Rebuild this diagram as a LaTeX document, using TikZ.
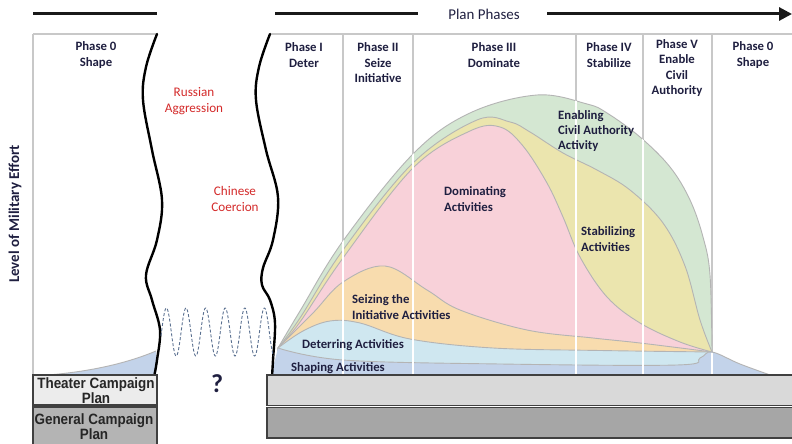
\documentclass[tikz,border=0pt]{standalone}
\usepackage{fontspec}
\setmainfont{Carlito}
\newfontfamily\narrowfont[FakeStretch=0.9]{Liberation Sans}
\usetikzlibrary{arrows.meta}
\definecolor{txtc}{HTML}{1F1F40}
\definecolor{redc}{HTML}{D42A2A}
\definecolor{framec}{HTML}{C8C8C8}
\definecolor{edgec}{HTML}{B4B4B4}
\definecolor{greenc}{HTML}{D4E7D2}
\definecolor{yellowc}{HTML}{EBE5AE}
\definecolor{pinkc}{HTML}{F8D1D9}
\definecolor{orangec}{HTML}{F8DCAE}
\definecolor{cyanc}{HTML}{CFE7F0}
\definecolor{bluec}{HTML}{C3D3EA}
\definecolor{sinec}{HTML}{5A7090}
\definecolor{boxlight}{HTML}{D9D9D9}
\definecolor{boxdark}{HTML}{A6A6A6}
\definecolor{lboxlight}{HTML}{ECECEC}
\definecolor{lboxdark}{HTML}{B4B4B4}
\tikzset{
  framel/.style={draw=framec, line width=1.2bp},
  whitel/.style={draw=white, line width=1.4bp},
  region/.style={draw=edgec, line width=0.9bp},
  topbar/.style={draw=black!90, line width=3bp},
  wavyl/.style={draw=black, line width=2.4bp, line cap=round},
  phaselbl/.style={font=\fontsize{12.8}{15.5}\selectfont\bfseries, text=txtc, align=center, inner sep=0pt},
  actlbl/.style={font=\fontsize{12.8}{15.5}\selectfont\bfseries, text=txtc, align=left, anchor=west, inner sep=0pt},
  redlbl/.style={font=\fontsize{13.2}{16}\selectfont, text=redc, align=center, inner sep=0pt},
  planbox/.style={draw=black!75, line width=1.3bp},
  planlbl/.style={font=\narrowfont\bfseries\fontsize{15}{12}\selectfont, text=black!85, anchor=base, inner sep=0pt}
}
\begin{document}
\begin{tikzpicture}[x=1bp,y=-1bp]
\useasboundingbox (0,0) rectangle (792,444);
\fill[white] (0,0) rectangle (792,444);

% top bars and arrow
\draw[topbar] (33,14) -- (157,14);
\draw[topbar] (275,14) -- (418,14);
\node[font=\fontsize{15}{18}\selectfont, text=txtc, inner sep=0pt] (plan) at (484,14) {Plan Phases};
\coordinate (arrowend) at (792,14);
\draw[topbar, -{Triangle[length=13bp,width=13bp]}] (547,14) -- (arrowend);

% frame lines
\draw[framel] (33,34) -- (157,34);
\draw[framel] (270,34) -- (792,34);
\draw[framel] (33,34) -- (33,376);
\foreach \xx in {343,413,576,643,712} \draw[framel] (\xx,34) -- (\xx,376);

% left shaping hump
\fill[bluec] (33,376) .. controls (90,373) and (130,362) .. (156,351) -- (156,376) -- cycle;
\draw[region] (33,376) .. controls (90,373) and (130,362) .. (156,351);

% effort regions
\filldraw[fill=greenc, region] plot[smooth, tension=0.6] coordinates {(278,348) (300,311) (343,241) (413,154) (470,113) (537,95) (587,104) (607,113) (640,137) (670,167) (690,200) (703,237) (710,275) (712,352)} -- (712,370) -- (278,370) -- cycle;
\filldraw[fill=yellowc, region] plot[smooth, tension=0.6] coordinates {(278,348) (300,318) (343,250) (413,163) (477,120) (510,122) (530,132) (563,153) (597,170) (630,190) (663,223) (685,266) (700,320) (712,352)} -- (712,370) -- (278,370) -- cycle;
\filldraw[fill=pinkc, region] plot[smooth, tension=0.6] coordinates {(278,348) (300,322) (343,258) (413,168) (470,131) (500,127) (523,146) (547,183) (563,217) (580,257) (607,297) (640,323) (680,342) (712,352)} -- (712,370) -- (278,370) -- cycle;
\filldraw[fill=orangec, region] plot[smooth, tension=0.6] coordinates {(278,348) (313,313) (343,282) (385,266) (427,290) (460,310) (527,330) (593,338) (640,343) (712,352)} -- (712,370) -- (278,370) -- cycle;
\filldraw[fill=cyanc, region] plot[smooth, tension=0.6] coordinates {(278,348) (303,331) (330,321) (360,323) (410,339) (493,348) (600,350.5) (712,352)} -- (712,370) -- (278,370) -- cycle;
\fill[bluec] (271,376) -- plot[smooth, tension=0.6] coordinates {(278,348) (343,360) (500,364) (677,365) (700,358) (712,352) (740,364) (773,376)} -- cycle;
\draw[region] plot[smooth, tension=0.6] coordinates {(278,348) (343,360) (500,364) (677,365) (700,358) (712,352) (740,364) (773,376)};

% white dividers inside the coloured regions
\begin{scope}
\clip plot[smooth, tension=0.6] coordinates {(278,348) (300,311) (343,241) (413,154) (470,113) (537,95) (587,104) (607,113) (640,137) (670,167) (690,200) (703,237) (710,275) (712,352)} -- (712,376) -- (278,376) -- cycle;
\foreach \xx in {343,413,576,643} \draw[whitel] (\xx,90) -- (\xx,376);
\end{scope}
\draw[whitel] (712,353) -- (712,376);

% wavy break lines
\draw[wavyl] plot[smooth, tension=0.6] coordinates {(157,34) (146,67) (143,100) (152,150) (162,200) (157,240) (146,275) (152,300) (160,330) (157,360) (154,377)};
\draw[wavyl] plot[smooth, tension=0.6] coordinates {(270,34) (259,67) (256,100) (266,150) (278,197) (273,240) (263,268) (262,285) (270,300) (275,323) (273,360) (272,377)};
\draw[sinec, densely dashed, line width=0.9bp] plot[domain=161:274, samples=240, smooth] (\x, {332-24*sin(18.3673*(\x-161.5))});

% campaign plan boxes
\filldraw[fill=lboxlight, planbox] (33,375) rectangle (157,405);
\filldraw[fill=lboxdark, planbox] (33,407) rectangle (157,446);
\filldraw[fill=boxlight, planbox] (267,375) rectangle (795,405.5);
\filldraw[fill=boxdark, planbox] (267,407.5) rectangle (795,438);
\node[planlbl] (tcp1) at (96,388.5) {Theater Campaign};
\node[planlbl] (tcp2) at (96,403.5) {Plan};
\node[planlbl] (gcp1) at (94,424.5) {General Campaign};
\node[planlbl] (gcp2) at (94,439.5) {Plan};

% question mark
\node[font=\fontsize{26}{28}\selectfont\bfseries, text=txtc, inner sep=0pt] (qm) at (217,384) {?};

% phase labels
\node[phaselbl] (p0a) at (96,55) {Phase 0\\Shape};
\node[phaselbl] (p1) at (304,55) {Phase I\\Deter};
\node[phaselbl] (p2) at (378,63) {Phase II\\Seize\\Initiative};
\node[phaselbl] (p3) at (494,55) {Phase III\\Dominate};
\node[phaselbl] (p4) at (609,55) {Phase IV\\Stabilize};
\node[phaselbl] (p5) at (677,68) {Phase V\\Enable\\Civil\\Authority};
\node[phaselbl] (p0b) at (753,55) {Phase 0\\Shape};

% red labels
\node[redlbl] (russia) at (194,101) {Russian\\Aggression};
\node[redlbl] (china) at (235,199) {Chinese\\Coercion};

% y axis label
\node[font=\fontsize{15}{18}\selectfont\bfseries, text=txtc, rotate=90, inner sep=0pt] (yaxis) at (15,214) {Level of Military Effort};

% activity labels
\node[actlbl] (enab) at (558,131) {Enabling\\Civil Authority\\Activity};
\node[actlbl] (domi) at (444,199) {Dominating\\Activities};
\node[actlbl] (stab) at (581,239) {Stabilizing\\Activities};
\node[actlbl] (seiz) at (352,307) {Seizing the\\Initiative Activities};
\node[actlbl] (dete) at (302,345) {Deterring Activities};
\node[actlbl] (shap) at (291,368) {Shaping Activities};
\end{tikzpicture}
\end{document}
